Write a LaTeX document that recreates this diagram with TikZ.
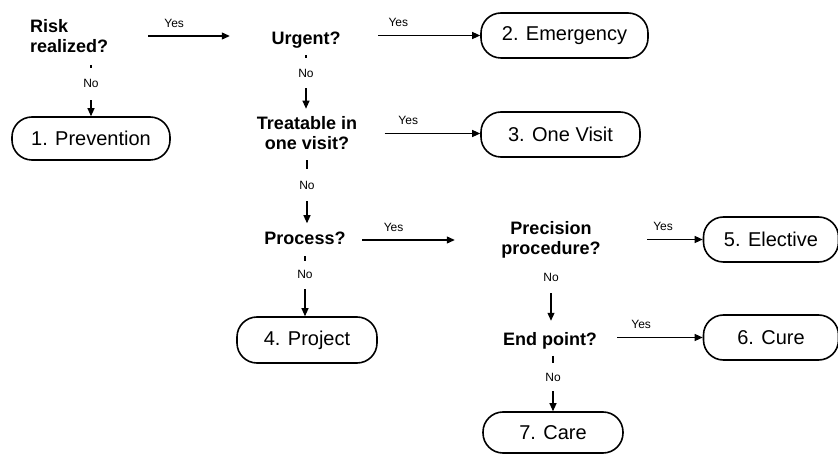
\documentclass[tikz,border=0pt]{standalone}
\usepackage{fontspec}
\setmainfont{Liberation Sans}
\usetikzlibrary{arrows.meta}
\begin{document}
\begin{tikzpicture}[x=1pt,y=-1pt,
  question/.style={font=\bfseries\fontsize{18}{20}\selectfont, inner sep=3pt, align=center},
  outcome/.style={draw, line width=1.6pt, rounded corners=20pt,
    font=\fontsize{20}{24}\selectfont, minimum height=45pt, inner sep=0pt},
  arr/.style={line width=1.1pt, -{Triangle[length=8pt,width=7pt]}},
  yes/.style={font=\fontsize{12}{14}\selectfont, above=7pt, inner sep=1pt, pos=0.4},
  no/.style={font=\fontsize{12}{14}\selectfont, fill=white, inner sep=1pt},
]
\useasboundingbox (0,0) rectangle (838,454);

% decision questions
\node[question, anchor=west, align=left] (risk) at (27,36) {Risk\\realized?};
\node[question, anchor=base] (urgent) at (306,45) {Urgent?};
\node[question] (treat) at (307,133.5) {Treatable in\\one visit?};
\node[question, anchor=base] (process) at (305,245) {Process?};
\node[question] (prec) at (551,240) {Precision\\procedure?};
\node[question, anchor=base] (endp) at (550,345) {End point?};

% outcomes
\node[outcome, minimum width=158pt, minimum height=43pt] (prev) at (91,138.5) {1. Prevention};
\node[outcome, minimum width=167pt] (emerg) at (564.5,35.5) {2. Emergency};
\node[outcome, minimum width=159pt] (visit) at (560.5,134.5) {3. One Visit};
\node[outcome, minimum width=140pt, minimum height=46pt] (project) at (307,340) {4. Project};
\node[outcome, minimum width=135pt] (elective) at (771,239.5) {5. Elective};
\node[outcome, minimum width=135pt] (cure) at (771,337.5) {6. Cure};
\node[outcome, minimum width=140pt, minimum height=41pt] (care) at (553,432.5) {7. Care};

% "Yes" branches
\draw[arr, shorten <=37pt, shorten >=38.5pt] (risk.east) -- node[yes]{Yes} (risk.east -| urgent.west);
\draw[arr, shorten <=34.5pt] (emerg.west -| urgent.east) -- node[yes]{Yes} (emerg.west);
\draw[arr, shorten <=24.5pt] (treat.east) -- node[yes]{Yes} (treat.east -| visit.west);
\draw[arr, shorten <=13.5pt, shorten >=43.5pt] (prec.west -| process.east) -- node[yes, pos=0.3]{Yes} (prec.west);
\draw[arr, shorten <=43.5pt] (elective.west -| prec.east) -- node[yes, pos=0.6]{Yes} (elective.west);
\draw[arr, shorten <=17pt] (cure.west -| endp.east) -- node[yes]{Yes} (cure.west);

% "No" branches
\draw[arr, shorten <=9pt] (risk.south -| prev.north) -- node[no, pos=0.46, minimum height=32pt]{No} (prev.north);
\draw[arr, shorten <=3pt, shorten >=5pt] (urgent.south) -- node[no, pos=0.34, minimum height=30pt]{No} (urgent.south |- treat.north);
\draw[arr, shorten <=7pt, shorten >=6pt] (treat.south) -- node[no, pos=0.42, minimum height=32pt]{No} (treat.south |- process.north);
\draw[arr, shorten <=8pt] (process.south) -- node[no, pos=0.39, minimum height=28pt]{No} (process.south |- project.north);
\draw[arr, shorten <=3pt, shorten >=8pt] (prec.south) -- node[no, pos=0.23, minimum height=31pt]{No} (prec.south |- endp.north);
\draw[arr, shorten <=4pt] (care.north |- endp.south) -- node[no, pos=0.43, minimum height=28pt]{No} (care.north);
\end{tikzpicture}
\end{document}
